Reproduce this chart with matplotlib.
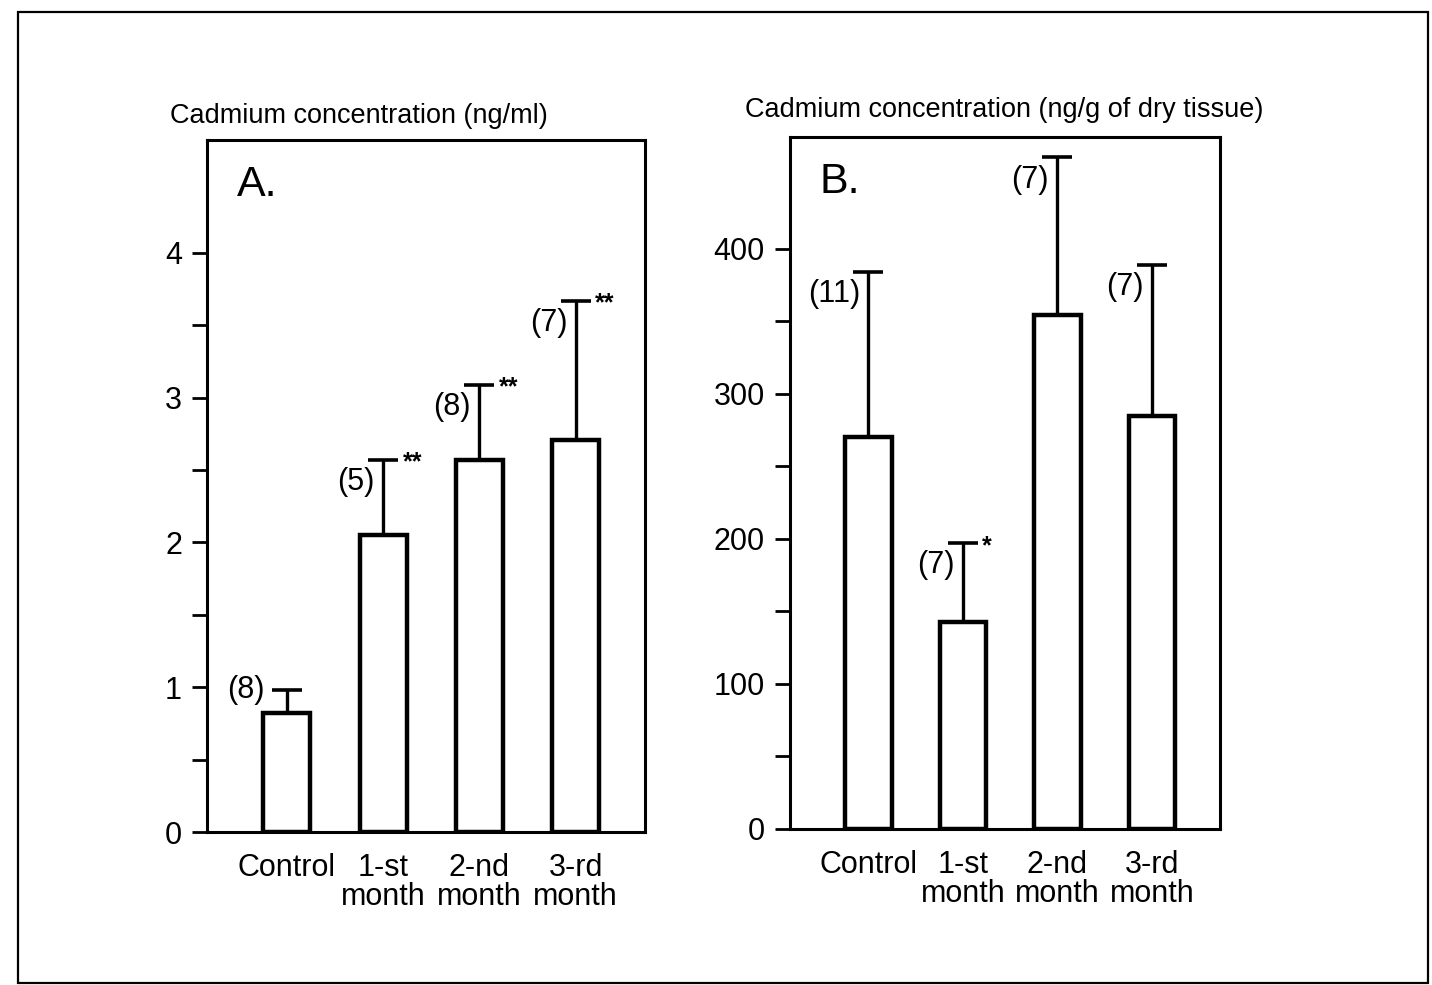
import matplotlib
matplotlib.use("Agg")
import matplotlib.pyplot as plt
from matplotlib.patches import Rectangle

plt.rcParams['font.family'] = ['Liberation Sans Narrow', 'Liberation Sans', 'DejaVu Sans']

# data
groups = ["Control", "1-st\nmonth", "2-nd\nmonth", "3-rd\nmonth"]

blood_mean = [0.82, 2.05, 2.57, 2.71]
blood_sd = [0.16, 0.52, 0.52, 0.96]
blood_n = ["(8)", "(5)", "(8)", "(7)"]
blood_sig = ["", "**", "**", "**"]

tissue_mean = [270, 143, 354, 285]
tissue_sd = [114, 54, 109, 104]
tissue_n = ["(11)", "(7)", "(7)", "(7)"]
tissue_sig = ["", "*", "", ""]

fig = plt.figure(figsize=(14.32, 9.85), dpi=100)

# outer frame of the scanned figure
fig.patches.append(Rectangle((18 / 1432, 2 / 985), 1410 / 1432, 971 / 985,
                             transform=fig.transFigure, fill=False,
                             edgecolor="black", linewidth=1.6))

CAP = 11


def panel(rect, mean, sd, n, sig, ymax, major, minor, letter, title, title_xy):
    ax = fig.add_axes(rect)
    x = list(range(len(mean)))
    eb = ax.errorbar(x, mean, yerr=[[0] * len(sd), sd], fmt="none", ecolor="black",
                     elinewidth=2.4, capsize=CAP, capthick=2.6, zorder=1)
    eb[1][0].set_visible(False)  # no lower caps
    ax.bar(x, mean, width=0.49, color="white", edgecolor="black",
           linewidth=3.2, zorder=2)
    for xi, m, s, lab, st in zip(x, mean, sd, n, sig):
        # short bars get their n beside the cap, the rest just under it
        off = (-CAP - 5, 0) if s < 0.06 * ymax else (-6, -16)
        ax.annotate(lab, (xi, m + s), xytext=off, textcoords="offset points",
                    ha="right", va="center", fontsize=22)
        if st:
            ax.annotate(st, (xi, m + s), xytext=(14, -2), textcoords="offset points",
                        ha="left", va="center", fontsize=18, fontweight="bold")
    ax.set_xlim(-0.83, 3.72)
    ax.set_ylim(0, ymax)
    ax.set_xticks(x)
    ax.set_xticklabels(groups, fontsize=22, linespacing=0.95)
    ax.tick_params(axis="x", length=0, pad=15)
    ax.set_yticks(major)
    ax.set_yticks(minor, minor=True)
    ax.tick_params(axis="y", which="both", length=11, width=2, labelsize=22, pad=7)
    for sp in ax.spines.values():
        sp.set_linewidth(2.2)
    ax.text(0.068, 0.935, letter, transform=ax.transAxes, fontsize=31,
            ha="left", va="center")
    fig.text(title_xy[0], title_xy[1], title, fontsize=19.5, ha="left", va="center")
    return ax


panel([207 / 1432, 153 / 985, 438 / 1432, 692 / 985],
      blood_mean, blood_sd, blood_n, blood_sig, 4.78,
      [0, 1, 2, 3, 4], [0.5, 1.5, 2.5, 3.5], "A.",
      "Cadmium concentration (ng/ml)", (170 / 1432, 1 - 116 / 985))

panel([790 / 1432, 156 / 985, 430 / 1432, 692 / 985],
      tissue_mean, tissue_sd, tissue_n, tissue_sig, 477,
      [0, 100, 200, 300, 400], [50, 150, 250, 350], "B.",
      "Cadmium concentration (ng/g of dry tissue)", (745 / 1432, 1 - 110 / 985))

fig.savefig("out.png", dpi=100)
